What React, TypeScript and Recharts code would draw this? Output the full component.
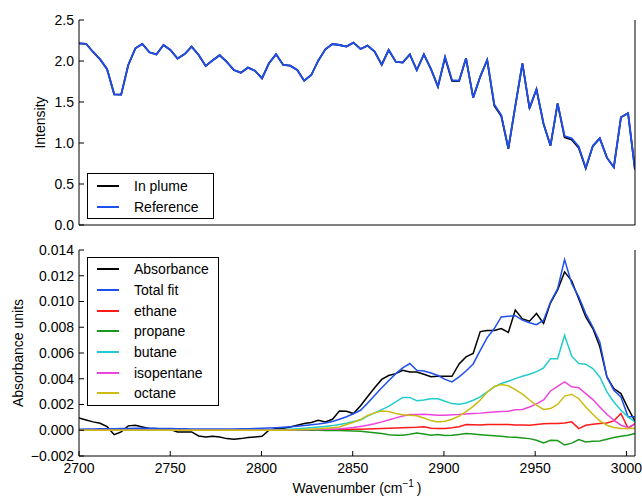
import React from 'react';
import { Legend, Line, LineChart, XAxis, YAxis } from 'recharts';

// wavenumber grid (cm^-1)
const WAVENUMBER = [
  2700.0, 2703.9, 2707.7, 2711.6, 2715.4, 2719.3, 2723.1, 2727.0, 2730.9, 2734.7,
  2738.6, 2742.4, 2746.3, 2750.1, 2754.0, 2757.9, 2761.7, 2765.6, 2769.4, 2773.3,
  2777.1, 2781.0, 2784.9, 2788.7, 2792.6, 2796.4, 2800.3, 2804.1, 2808.0, 2811.9,
  2815.7, 2819.6, 2823.4, 2827.3, 2831.1, 2835.0, 2838.9, 2842.7, 2846.6, 2850.4,
  2854.3, 2858.1, 2862.0, 2865.9, 2869.7, 2873.6, 2877.4, 2881.3, 2885.1, 2889.0,
  2892.9, 2896.7, 2900.6, 2904.4, 2908.3, 2912.1, 2916.0, 2919.9, 2923.7, 2927.6,
  2931.4, 2935.3, 2939.1, 2943.0, 2946.9, 2950.7, 2954.6, 2958.4, 2962.3, 2966.1,
  2970.0, 2973.9, 2977.7, 2981.6, 2985.4, 2989.3, 2993.1, 2997.0, 3000.9, 3004.7,
];

// top panel: intensity
const IN_PLUME = [
  2.215, 2.21, 2.11, 2.02, 1.9, 1.594, 1.59, 1.951, 2.155, 2.207,
  2.106, 2.08, 2.195, 2.134, 2.03, 2.085, 2.175, 2.073, 1.94, 2.01,
  2.07, 1.99, 1.89, 1.858, 1.919, 1.882, 1.789, 1.972, 2.081, 1.951,
  1.943, 1.89, 1.76, 1.829, 2.004, 2.142, 2.207, 2.195, 2.175, 2.224,
  2.146, 2.187, 2.114, 1.955, 2.134, 1.992, 1.98, 2.08, 1.89, 2.08,
  1.9, 1.687, 2.04, 1.758, 1.755, 2.033, 1.553, 1.81, 2.012, 1.455,
  1.33, 0.93, 1.45, 1.972, 1.42, 1.655, 1.232, 0.967, 1.484, 1.07,
  1.04, 0.94, 0.69, 0.963, 1.057, 0.821, 0.704, 1.313, 1.362, 0.671,
];

const REFERENCE = [
  2.215, 2.21, 2.11, 2.02, 1.9, 1.594, 1.59, 1.951, 2.155, 2.207,
  2.106, 2.08, 2.195, 2.134, 2.03, 2.085, 2.175, 2.073, 1.94, 2.01,
  2.07, 1.99, 1.89, 1.858, 1.919, 1.882, 1.789, 1.972, 2.081, 1.951,
  1.943, 1.89, 1.76, 1.829, 2.004, 2.142, 2.207, 2.195, 2.175, 2.224,
  2.146, 2.187, 2.114, 1.955, 2.134, 1.992, 1.98, 2.08, 1.89, 2.08,
  1.9, 1.687, 2.053, 1.768, 1.76, 2.033, 1.553, 1.81, 2.012, 1.47,
  1.341, 0.935, 1.45, 1.972, 1.43, 1.655, 1.232, 0.967, 1.484, 1.085,
  1.057, 0.955, 0.699, 0.963, 1.057, 0.821, 0.704, 1.313, 1.362, 0.671,
];

// bottom panel: absorbance units
const ABSORBANCE = [
  0.00096, 0.0008, 0.00065, 0.00054, 0.00028, -0.00034, -0.00013, 0.00034, 0.00039, 0.00026,
  0.00013, 0.00013, 0.00005, 0.00005, -0.00013, -0.00013, -0.00013, -0.00044, -0.00052, -0.00047,
  -0.00052, -0.00065, -0.0007, -0.00065, -0.00057, -0.00052, -0.00047, 0.0, 0.00013, 0.00013,
  0.00026, 0.00039, 0.00052, 0.0006, 0.00078, 0.00065, 0.00085, 0.0015, 0.00148, 0.0013,
  0.0019, 0.0026, 0.0033, 0.00395, 0.00425, 0.0044, 0.00466, 0.00453, 0.00453, 0.00435,
  0.00415, 0.00419, 0.00419, 0.00419, 0.00515, 0.0057, 0.00596, 0.00766, 0.00775, 0.00775,
  0.0079, 0.0076, 0.00933, 0.00865, 0.00847, 0.00907, 0.0083, 0.0099, 0.0109, 0.0123,
  0.0116, 0.0102, 0.0088, 0.0079, 0.0065, 0.00414, 0.00324, 0.00285, 0.0017, 0.0007,
];

const TOTAL_FIT = [
  0.00008, 0.00009, 0.0001, 0.00011, 0.00012, 0.00012, 0.00013, 0.00014, 0.00015, 0.00015,
  0.00015, 0.00014, 0.00014, 0.00013, 0.00012, 0.00011, 0.0001, 0.0001, 0.00009, 0.00009,
  0.00009, 0.0001, 0.0001, 0.00011, 0.00012, 0.00013, 0.00015, 0.00017, 0.0002, 0.00023,
  0.00027, 0.00031, 0.00036, 0.00042, 0.00048, 0.00056, 0.00068, 0.00085, 0.00105, 0.00128,
  0.00155, 0.0021, 0.0027, 0.0033, 0.00385, 0.0044, 0.00485, 0.00518, 0.00465, 0.0046,
  0.00445, 0.00425, 0.00395, 0.00375, 0.00415, 0.0046, 0.00515, 0.0062, 0.0072, 0.0079,
  0.0088, 0.00885, 0.0089, 0.00855, 0.00835, 0.0082, 0.00855, 0.00996, 0.011, 0.01326,
  0.0114, 0.01036, 0.00906, 0.00802, 0.00686, 0.00414, 0.00311, 0.00259, 0.00104, 0.00104,
];

const ETHANE = [
  0, 0, 0, 0, 0, 0, 0, 0, 0, 0,
  0, 0, 0, 0, 0, 0, 0, 0, 0, 0,
  0, 0, 0, 0, 0, 0, 0, 0, 0, 0,
  0, 0.00001, 0.00001, 0.00001, 0.00001, 0.00002, 0.00002, 0.00003, 0.00005, 0.00007,
  0.00008, 0.0001, 0.00012, 0.00014, 0.00015, 0.00017, 0.0002, 0.00022, 0.00024, 0.00028,
  0.00015, 0.00014, 0.00014, 0.0002, 0.00028, 0.00045, 0.00042, 0.0004, 0.00045, 0.00045,
  0.00044, 0.00044, 0.0004, 0.0004, 0.00039, 0.00045, 0.0005, 0.00052, 0.00052, 0.00057,
  0.00065, 0.00013, 0.00039, 0.00047, 0.00052, 0.00057, 0.00073, 0.0013, 0.00015, 0.0005,
];

const PROPANE = [
  0, 0, 0, 0, 0, 0, 0, 0, 0, 0,
  0, 0, 0, 0, 0, 0, 0, 0, 0, 0,
  0, 0, 0, 0, 0, 0, 0, 0, 0, 0,
  0, 0, 0, 0, 0, -0.00001, -0.00001, -0.00002, -0.00003, -0.00005,
  -0.00008, -0.00013, -0.0002, -0.00026, -0.00035, -0.00039, -0.00039, -0.00031, -0.00021, -0.0003,
  -0.00039, -0.00034, -0.0004, -0.00039, -0.00033, -0.00026, -0.0003, -0.00035, -0.00039, -0.00042,
  -0.00047, -0.00052, -0.00055, -0.0006, -0.00065, -0.00078, -0.00098, -0.00078, -0.0008, -0.00115,
  -0.001, -0.00073, -0.00091, -0.00085, -0.00083, -0.0007, -0.00057, -0.00047, -0.00038, -0.00026,
];

const BUTANE = [
  0, 0, 0, 0, 0, 0, 0, 0, 0, 0,
  0, 0, 0, 0, 0, 0, 0, 0, 0, 0,
  0, 0, 0, 0, 0.00001, 0.00001, 0.00002, 0.00002, 0.00003, 0.00005,
  0.00008, 0.00011, 0.00015, 0.0002, 0.00025, 0.0003, 0.00036, 0.00045, 0.00055, 0.00068,
  0.0008, 0.0011, 0.00135, 0.0016, 0.00185, 0.0022, 0.00255, 0.00255, 0.0023, 0.00235,
  0.00245, 0.00245, 0.00225, 0.00207, 0.00202, 0.00212, 0.00233, 0.00259, 0.00298, 0.00337,
  0.00363, 0.00381, 0.00401, 0.00419, 0.00435, 0.00455, 0.00485, 0.00556, 0.00556, 0.00738,
  0.00575, 0.00518, 0.00513, 0.00479, 0.00414, 0.00298, 0.0022, 0.00155, 0.00104, 0.00065,
];

const ISOPENTANE = [
  0, 0, 0, 0, 0, 0, 0, 0, 0, 0,
  0, 0, 0, 0, 0, 0, 0, 0, 0, 0,
  0, 0, 0, 0, 0, 0, 0, 0, 0, 0,
  0.00002, 0.00003, 0.00004, 0.00005, 0.00006, 0.00008, 0.0001, 0.00012, 0.00016, 0.00021,
  0.0003, 0.00039, 0.0005, 0.00065, 0.0008, 0.00096, 0.0011, 0.00122, 0.00122, 0.00124,
  0.0012, 0.00117, 0.00117, 0.0012, 0.00122, 0.00126, 0.0013, 0.00133, 0.00138, 0.00142,
  0.00145, 0.00148, 0.0016, 0.00162, 0.00181, 0.00205, 0.00235, 0.00305, 0.0034, 0.00375,
  0.00337, 0.00331, 0.00285, 0.00238, 0.00181, 0.00124, 0.00078, 0.00039, 0.00021, 0.00052,
];

const OCTANE = [
  0, 0, 0, 0, 0, 0, 0, 0, 0, 0,
  0, 0, 0, 0, 0, 0, 0, 0, 0, 0,
  0, 0, 0, 0, 0, 0, 0, 0, 0, 0,
  0.00002, 0.00003, 0.00005, 0.00008, 0.00011, 0.00015, 0.0002, 0.00026, 0.00044, 0.00062,
  0.00083, 0.00115, 0.00135, 0.0015, 0.00145, 0.0013, 0.0012, 0.00117, 0.00112, 0.00095,
  0.00075, 0.00065, 0.0007, 0.00085, 0.0011, 0.00145, 0.00185, 0.00235, 0.00295, 0.0034,
  0.00355, 0.00345, 0.00315, 0.0028, 0.00235, 0.00195, 0.00162, 0.00168, 0.002, 0.00265,
  0.0028, 0.00245, 0.00181, 0.00124, 0.00073, 0.00039, 0.00021, 0.00013, 0.00013, 0.00013,
];

const X_DOMAIN = [2700, 3004.7];
const X_TICKS = [2700, 2750, 2800, 2850, 2900, 2950, 3000];
const INTENSITY_TICKS = [0, 0.5, 1, 1.5, 2, 2.5];
const ABS_TICKS = [-0.002, 0, 0.002, 0.004, 0.006, 0.008, 0.01, 0.012, 0.014];

// legend order follows the order the series are drawn in
const TOP_ORDER = ['In plume', 'Reference'];
const BOTTOM_ORDER = ['Absorbance', 'Total fit', 'ethane', 'propane', 'butane', 'isopentane', 'octane'];

const FONT = '"Liberation Sans", Arial, Helvetica, sans-serif';
const TICK_STYLE = { fill: '#000', fontSize: 14, fontFamily: FONT };
const AXIS_LINE = { stroke: '#000', strokeWidth: 1 };

const topData = WAVENUMBER.map((w, i) => ({ w, plume: IN_PLUME[i], reference: REFERENCE[i] }));
const bottomData = WAVENUMBER.map((w, i) => ({
  w,
  absorbance: ABSORBANCE[i],
  fit: TOTAL_FIT[i],
  ethane: ETHANE[i],
  propane: PROPANE[i],
  butane: BUTANE[i],
  isopentane: ISOPENTANE[i],
  octane: OCTANE[i],
}));

const fmtIntensity = (v: number) => v.toFixed(1);
const fmtAbs = (v: number) => (v < 0 ? '\u2212' : '') + Math.abs(v).toFixed(3);

const yTitle = (cx: number) => (props: any) => {
  const { viewBox, value } = props;
  const cy = viewBox.y + viewBox.height / 2;
  return (
    <text
      x={cx}
      y={cy}
      transform={`rotate(-90 ${cx} ${cy})`}
      textAnchor="middle"
      dominantBaseline="central"
      fontSize={14}
      fontFamily={FONT}
      fill="#000"
    >
      {value}
    </text>
  );
};

const xTitle = (props: any) => {
  const { viewBox } = props;
  const cx = viewBox.x + viewBox.width / 2;
  return (
    <text x={cx} y={viewBox.y + 37} textAnchor="middle" fontSize={14} fontFamily={FONT} fill="#000">
      Wavenumber (cm
      <tspan dy={-6} fontSize={10}>
        {'\u22121'}
      </tspan>
      <tspan dy={6}>{'\u2009)'}</tspan>
    </text>
  );
};

const LegendBox = ({ payload, rowHeight }: any) => (
  <div
    style={{
      border: '1px solid #000',
      background: '#fff',
      padding: '1px 0',
      fontFamily: FONT,
      fontSize: 14,
      color: '#000',
    }}
  >
    {(payload || []).map((entry: any) => (
      <div key={entry.value} style={{ display: 'flex', alignItems: 'center', height: rowHeight }}>
        <span
          style={{
            display: 'inline-block',
            marginLeft: 9,
            width: 22,
            height: 0,
            borderTop: `2px solid ${entry.color}`,
          }}
        />
        <span style={{ marginLeft: 15, lineHeight: 1 }}>{entry.value}</span>
      </div>
    ))}
  </div>
);

// inward ticks on all four sides, matplotlib style
const frameAxes = (yDomain: number[], yTicks: number[]) => [
  <XAxis
    key="xt"
    xAxisId="top"
    orientation="top"
    type="number"
    domain={X_DOMAIN}
    ticks={X_TICKS}
    allowDataOverflow
    height={0}
    tick={false}
    tickSize={-5}
    axisLine={AXIS_LINE}
    tickLine={AXIS_LINE}
  />,
  <YAxis
    key="yr"
    yAxisId="right"
    orientation="right"
    type="number"
    domain={yDomain}
    ticks={yTicks}
    allowDataOverflow
    width={7}
    tick={false}
    tickSize={-5}
    axisLine={AXIS_LINE}
    tickLine={AXIS_LINE}
  />,
];

export default function App() {
  return (
    <div
      style={{
        position: 'absolute',
        left: 0,
        top: 0,
        width: 642,
        height: 497,
        background: '#fff',
        fontFamily: FONT,
      }}
    >
      <div style={{ position: 'absolute', left: 0, top: 0 }}>
        <LineChart width={642} height={240} data={topData} margin={{ top: 20, right: 0, bottom: 0, left: 0 }}>
          <XAxis
            dataKey="w"
            type="number"
            domain={X_DOMAIN}
            ticks={X_TICKS}
            allowDataOverflow
            height={15}
            tick={false}
            tickSize={-5}
            axisLine={AXIS_LINE}
            tickLine={AXIS_LINE}
          />
          <YAxis
            type="number"
            domain={[0, 2.5]}
            ticks={INTENSITY_TICKS}
            allowDataOverflow
            width={79}
            interval={0}
            tickSize={-5}
            tickMargin={10}
            tick={TICK_STYLE}
            tickFormatter={fmtIntensity}
            axisLine={AXIS_LINE}
            tickLine={AXIS_LINE}
            label={{ value: 'Intensity', content: yTitle(40) }}
          />
          {frameAxes([0, 2.5], INTENSITY_TICKS)}
          <Line
            dataKey="plume"
            name="In plume"
            stroke="#000000"
            strokeWidth={1.8}
            dot={false}
            activeDot={false}
            isAnimationActive={false}
          />
          <Line
            dataKey="reference"
            name="Reference"
            stroke="#1f4fef"
            strokeWidth={1.8}
            dot={false}
            activeDot={false}
            isAnimationActive={false}
          />
          <Legend
            layout="vertical"
            align="center"
            verticalAlign="middle"
            width={127}
            wrapperStyle={{ left: 87, top: 173 }}
            itemSorter={(item: any) => TOP_ORDER.indexOf(item.value)}
            content={(p: any) => <LegendBox {...p} rowHeight={21} />}
          />
        </LineChart>
      </div>

      <div style={{ position: 'absolute', left: 0, top: 230 }}>
        <LineChart width={642} height={267} data={bottomData} margin={{ top: 20, right: 0, bottom: 0, left: 0 }}>
          <XAxis
            dataKey="w"
            type="number"
            domain={X_DOMAIN}
            ticks={X_TICKS}
            allowDataOverflow
            height={41}
            interval={0}
            tickSize={-5}
            tickMargin={12}
            tick={TICK_STYLE}
            axisLine={AXIS_LINE}
            tickLine={AXIS_LINE}
            label={{ content: xTitle }}
          />
          <YAxis
            type="number"
            domain={[-0.002, 0.014]}
            ticks={ABS_TICKS}
            allowDataOverflow
            width={79}
            interval={0}
            tickSize={-5}
            tickMargin={10}
            tick={TICK_STYLE}
            tickFormatter={fmtAbs}
            axisLine={AXIS_LINE}
            tickLine={AXIS_LINE}
            label={{ value: 'Absorbance units', content: yTitle(18) }}
          />
          {frameAxes([-0.002, 0.014], ABS_TICKS)}
          <Line dataKey="absorbance" name="Absorbance" stroke="#000000" strokeWidth={1.5} dot={false} activeDot={false} isAnimationActive={false} />
          <Line dataKey="fit" name="Total fit" stroke="#1f4fef" strokeWidth={1.5} dot={false} activeDot={false} isAnimationActive={false} />
          <Line dataKey="ethane" name="ethane" stroke="#ff1a1a" strokeWidth={1.5} dot={false} activeDot={false} isAnimationActive={false} />
          <Line dataKey="propane" name="propane" stroke="#1a9a1a" strokeWidth={1.5} dot={false} activeDot={false} isAnimationActive={false} />
          <Line dataKey="butane" name="butane" stroke="#22cccc" strokeWidth={1.5} dot={false} activeDot={false} isAnimationActive={false} />
          <Line dataKey="isopentane" name="isopentane" stroke="#ee44dd" strokeWidth={1.5} dot={false} activeDot={false} isAnimationActive={false} />
          <Line dataKey="octane" name="octane" stroke="#ccbb11" strokeWidth={1.5} dot={false} activeDot={false} isAnimationActive={false} />
          <Legend
            layout="vertical"
            align="center"
            verticalAlign="middle"
            width={132}
            wrapperStyle={{ left: 87, top: 27 }}
            itemSorter={(item: any) => BOTTOM_ORDER.indexOf(item.value)}
            content={(p: any) => <LegendBox {...p} rowHeight={20.7} />}
          />
        </LineChart>
      </div>
    </div>
  );
}
